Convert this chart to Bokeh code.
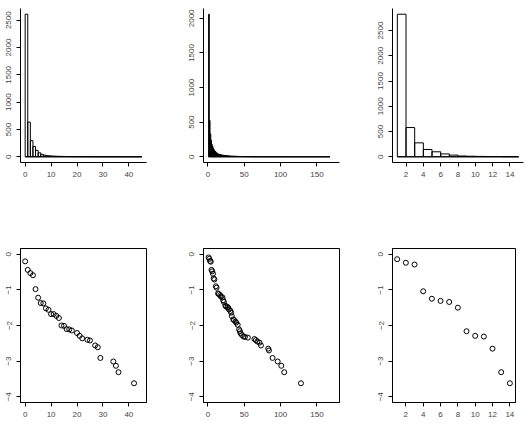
from bokeh.plotting import figure
from bokeh.layouts import row, column
from bokeh.models import SingleIntervalTicker, Range1d
from bokeh.embed import file_html
from bokeh.resources import INLINE

# ---------------- data ----------------
hist1_start = 0
hist1_counts = [2610, 635, 295, 190, 118, 73, 46, 30, 21, 18,
                14, 12, 9, 8, 7, 6, 5, 4, 4, 3,
                3, 2, 2, 2, 2, 1, 1, 1, 1, 1,
                0, 1, 1, 0, 1, 1, 1, 0, 0, 0,
                0, 0, 1, 0, 1]
hist2_start = 1
hist2_counts = [2060, 525, 330, 240, 180, 150, 120, 100, 85, 75,
                62, 54, 46, 40, 36, 33, 30, 28, 25, 24,
                22, 21, 19, 18, 17, 16, 15, 14, 13, 12,
                11, 11, 10, 10, 9, 8, 8, 7, 7, 6,
                6, 5, 5, 5, 4, 4, 4, 3, 3, 3,
                3, 3, 2, 2, 2, 2, 2, 2, 1, 1,
                1, 1, 0, 1, 1, 1, 1, 0, 1, 1,
                1, 0, 1, 1, 0, 0, 0, 0, 0, 0,
                0, 0, 1, 1, 0, 0, 0, 0, 1, 0,
                0, 0, 0, 0, 0, 1, 0, 0, 0, 0,
                1, 0, 0, 0, 1, 0, 0, 0, 0, 0,
                0, 0, 0, 0, 0, 0, 0, 0, 0, 0,
                0, 0, 0, 0, 0, 0, 0, 1, 0, 0,
                0, 0, 0, 0, 0, 0, 0, 0, 0, 0,
                0, 0, 0, 0, 0, 0, 0, 0, 0, 0,
                0, 0, 0, 0, 0, 0, 0, 0, 0, 0,
                0, 0, 0, 0, 0, 0, 0]
hist3_start = 1
hist3_counts = [2822, 579, 276, 145, 99, 57, 33, 16, 11, 8, 5, 6, 3, 2]

sc1_x = [0, 1, 2, 3, 4, 5, 6, 7, 8, 9, 10, 11, 12, 13, 14, 15, 16, 17, 18,
         20, 21, 22, 24, 25, 27, 28, 29, 34, 35, 36, 42]
sc1_y = [-0.20, -0.44, -0.53, -0.59, -0.98, -1.22, -1.37, -1.38, -1.52, -1.56,
         -1.68, -1.68, -1.73, -1.79, -2.00, -2.01, -2.10, -2.11, -2.14, -2.21,
         -2.29, -2.36, -2.40, -2.42, -2.56, -2.61, -2.91, -3.01, -3.13, -3.31,
         -3.62]

sc2_x = [1, 2, 3, 4, 5, 6, 7, 8, 9, 11, 12, 14, 15, 17, 18, 20, 21, 22, 24, 25,
         27, 28, 29, 31, 32, 33, 35, 36, 38, 39, 41, 43, 44, 45, 47, 49, 51, 55,
         64, 66, 68, 71, 73, 83, 84, 89, 96, 101, 105, 128]
sc2_y = [-0.09, -0.13, -0.19, -0.21, -0.44, -0.48, -0.55, -0.68, -0.71, -0.90,
         -0.94, -1.10, -1.12, -1.15, -1.19, -1.21, -1.29, -1.34, -1.44, -1.47,
         -1.48, -1.50, -1.55, -1.59, -1.64, -1.74, -1.83, -1.85, -1.89, -1.92,
         -1.98, -2.11, -2.16, -2.22, -2.27, -2.31, -2.32, -2.34, -2.38, -2.41,
         -2.45, -2.48, -2.56, -2.65, -2.70, -2.91, -3.01, -3.13, -3.31, -3.62]

sc3_x = [1, 2, 3, 4, 5, 6, 7, 8, 9, 10, 11, 12, 13, 14]
sc3_y = [-0.14, -0.24, -0.29, -1.04, -1.25, -1.31, -1.34, -1.50, -2.16, -2.29,
         -2.31, -2.65, -3.31, -3.62]

h1_xtick_step = 10
h1_ytick_step = 500
h2_xtick_step = 50
h2_ytick_step = 500
h3_xtick_step = 2
h3_ytick_step = 500
sc_ytick_step = 1

FONT = "Liberation Sans"
FSIZE = "8px"


def make_fig(width, height, xr, yr, left, right, top, bottom, box):
    p = figure(width=width, height=height, x_range=Range1d(*xr), y_range=Range1d(*yr),
               output_backend="svg", toolbar_location=None,
               min_border_left=left, min_border_right=right,
               min_border_top=top, min_border_bottom=bottom,
               background_fill_color="white", border_fill_color="white")
    p.xgrid.visible = False
    p.ygrid.visible = False
    p.outline_line_color = "black" if box else None
    return p


def style_axes(p, xstep, ystep):
    for ax in (p.xaxis[0], p.yaxis[0]):
        ax.major_tick_out = 4
        ax.major_tick_in = 0
        ax.minor_tick_line_color = None
        ax.major_label_text_font = FONT
        ax.major_label_text_font_size = FSIZE
        ax.major_label_standoff = 5
    p.xaxis[0].ticker = SingleIntervalTicker(interval=xstep, num_minor_ticks=0)
    p.yaxis[0].ticker = SingleIntervalTicker(interval=ystep, num_minor_ticks=0)
    p.yaxis[0].major_label_orientation = "vertical"


def hist_panel(counts, start, xr, xstep, ystep, width, left, right):
    ymax = max(counts)
    pad = 0.04 * ymax
    p = make_fig(width, 215, xr, (-pad, ymax + pad), left, right, 8, 53, False)
    lefts = [start + i for i in range(len(counts))]
    rights = [start + i + 1 for i in range(len(counts))]
    p.quad(left=lefts, right=rights, bottom=0, top=counts,
           fill_color="white", fill_alpha=0.0, line_color="black", line_width=1)
    p.segment(x0=[lefts[0]], y0=[0], x1=[rights[-1]], y1=[0], line_color="black", line_width=1)
    style_axes(p, xstep, ystep)
    return p


def scatter_panel(xs, ys, xr, xstep, width, left, right):
    p = make_fig(width, 215, xr, (-4.16, 0.16), left, right, 33, 28, True)
    p.scatter(xs, ys, marker="circle", size=5, fill_color=None,
              line_color="black", line_width=1)
    style_axes(p, xstep, sc_ytick_step)
    return p


p1 = hist_panel(hist1_counts, hist1_start, (-1.8, 46.8), h1_xtick_step, h1_ytick_step, 176, 20, 30)
p2 = hist_panel(hist2_counts, hist2_start, (-6, 181), h2_xtick_step, h2_ytick_step, 176, 27, 13)
p3 = hist_panel(hist3_counts, hist3_start, (0.44, 15.56), h3_xtick_step, h3_ytick_step, 174, 40, 3)

p4 = scatter_panel(sc1_x, sc1_y, (-1.8, 46.8), h1_xtick_step, 176, 20, 30)
p5 = scatter_panel(sc2_x, sc2_y, (-6, 181), h2_xtick_step, 176, 27, 13)
p6 = scatter_panel(sc3_x, sc3_y, (0.46, 14.65), h3_xtick_step, 174, 40, 11)

layout = column(row(p1, p2, p3), row(p4, p5, p6))

open("out.html", "w").write(file_html(layout, INLINE))
